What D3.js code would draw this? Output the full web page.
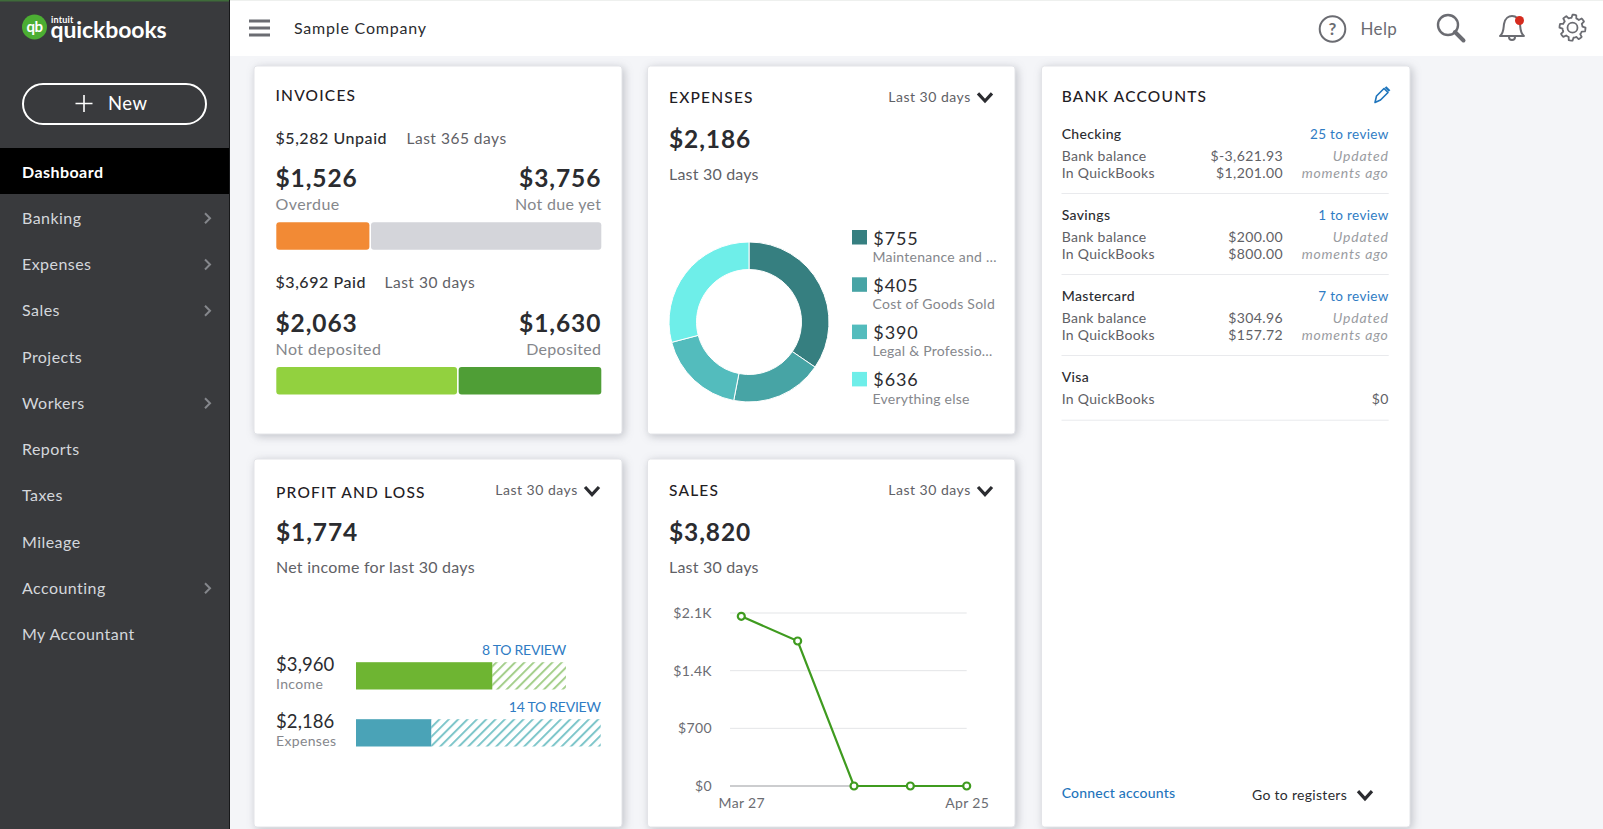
<!DOCTYPE html>
<html>
<head>
<meta charset="utf-8">
<title>QuickBooks dashboard</title>
<script src="https://cdn.jsdelivr.net/npm/d3@7"></script>
<style>
html, body {margin: 0; padding: 0; background: #f4f5f8; overflow: hidden;}
svg {display: block; font-family: Lato, "Open Sans", sans-serif;}
.card {fill: #fff; stroke: #e3e4e8; stroke-width: 1; filter: drop-shadow(2px 2px 4px rgba(60, 65, 80, 0.28));}
.sales-y .domain, .sales-y line {display: none;}
.sales-x .domain, .sales-x line {display: none;}
</style>
</head>
<body>
<svg id="canvas" width="1603" height="829"></svg>
<script>
//sidebar
const menuItems = ["Dashboard", "Banking", "Expenses", "Sales", "Projects", "Workers", "Reports", "Taxes", "Mileage", "Accounting", "My Accountant"]
const menuWithArrow = ["Banking", "Expenses", "Sales", "Workers", "Accounting"]

//invoices
const unpaidLabels = ["Overdue", "Not due yet"]
const unpaidValues = [1526, 3756]
const paidLabels = ["Not deposited", "Deposited"]
const paidValues = [2063, 1630]

//expenses donut
const expenseLabels = ["Maintenance and …", "Cost of Goods Sold", "Legal & Professio…", "Everything else"]
const expenseValues = [755, 405, 390, 636]
const expenseColors = ["#367f80", "#47a4a5", "#53bcbd", "#6eeee9"]

//profit and loss, second number is the bar with the items left to review
const plLabels = ["Income", "Expenses"]
const plValues = [3960, 2186]
const plWithReview = [6100, 7110]
const plReview = ["8 TO REVIEW", "14 TO REVIEW"]

//sales
const salesDates = ["Mar 27", "Apr 3", "Apr 11", "Apr 18", "Apr 25"]
const salesValues = [2060, 1760, 0, 0, 0]
const salesTicks = [0, 700, 1400, 2100]
const salesTickLabels = ["$0", "$700", "$1.4K", "$2.1K"]

//bank accounts
const bankNames = ["Checking", "Savings", "Mastercard", "Visa"]
const bankReview = ["25 to review", "1 to review", "7 to review", ""]
const bankBalance = ["$-3,621.93", "$200.00", "$304.96", ""]
const bookBalance = ["$1,201.00", "$800.00", "$157.72", "$0"]

const money = d3.format("$,")
const svg = d3.select("#canvas")
const dark = "#2b2c30", mid = "#5f6166", light = "#85878c", blue = "#2f7cc4"

const label = (parent, x, y, str, o = {}) => parent.append("text")
    .attr("x", x).attr("y", y)
    .attr("text-anchor", o.anchor || "start")
    .attr("fill", o.fill || dark)
    .attr("font-size", o.size || 15)
    .attr("font-weight", o.weight || 400)
    .attr("font-style", o.style || "normal")
    .attr("letter-spacing", o.spacing === undefined ? 0.35 : o.spacing)
    .text(str)

const chevron = (parent, cx, cy) => parent.append("path")
    .attr("d", `M${cx - 7},${cy - 3.8}L${cx},${cy + 3.8}L${cx + 7},${cy - 3.8}`)
    .attr("fill", "none").attr("stroke", dark).attr("stroke-width", 3.2)

const card = (x, y, w, h) => svg.append("rect").attr("class", "card")
    .attr("x", x).attr("y", y).attr("width", w).attr("height", h).attr("rx", 3)

//header and sidebar
svg.append("rect").attr("width", 1603).attr("height", 56).attr("fill", "#fff")
svg.append("rect").attr("width", 1603).attr("height", 1).attr("fill", "#eef0ee")

const side = svg.append("g")
side.append("rect").attr("width", 230).attr("height", 829).attr("fill", "#393a3d")
side.append("rect").attr("x", 229).attr("width", 1).attr("height", 829).attr("fill", "#17181a")
side.append("rect").attr("width", 229).attr("height", 1.5).attr("fill", "#3f6b3a")

//logo
side.append("circle").attr("cx", 34.5).attr("cy", 27).attr("r", 12.5).attr("fill", "#4cae33")
label(side, 34.5, 32, "qb", {anchor: "middle", fill: "#fff", size: 15, weight: 700, spacing: -0.6})
label(side, 51, 22.5, "intuit", {fill: "#fff", size: 9, weight: 700, spacing: 0.2})
label(side, 50.5, 37.5, "quickbooks", {fill: "#fff", size: 23, weight: 700, spacing: -0.1})

//new button
side.append("rect").attr("x", 23).attr("y", 84).attr("width", 183).attr("height", 40)
    .attr("rx", 20).attr("fill", "none").attr("stroke", "#fff").attr("stroke-width", 2)
side.append("path").attr("d", "M84,95V112M75.5,103.5H92.5").attr("stroke", "#fff").attr("stroke-width", 1.6)
label(side, 108, 110, "New", {fill: "#fff", size: 18.5, spacing: 0.5})

//menu
const menuY = d3.scalePoint().domain(menuItems).range([172, 634.5])
side.append("rect").attr("y", 148).attr("width", 229).attr("height", 46).attr("fill", "#000")
menuItems.forEach(item => {
    const y = menuY(item)
    const active = item === "Dashboard"
    label(side, 22, y + 5.5, item, {fill: active ? "#fff" : "#d4d7dc", size: 16, weight: active ? 700 : 400, spacing: 0.45})
    if (menuWithArrow.includes(item)) {
        side.append("path").attr("d", `M205,${y - 5}L210,${y}L205,${y + 5}`)
            .attr("fill", "none").attr("stroke", "#85878c").attr("stroke-width", 2)
    }
})

//top bar
const topBar = svg.append("g")
topBar.append("path").attr("d", "M249,21H270M249,28H270M249,35H270").attr("stroke", "#6b6c72").attr("stroke-width", 3)
label(topBar, 294, 33.5, "Sample Company", {size: 16, spacing: 0.8, fill: "#2b2c30"})
const iconColor = "#6b6c72"
topBar.append("circle").attr("cx", 1332.5).attr("cy", 29).attr("r", 12.8).attr("fill", "none").attr("stroke", iconColor).attr("stroke-width", 2)
label(topBar, 1332.5, 35, "?", {anchor: "middle", size: 17, weight: 700, fill: iconColor, spacing: 0})
label(topBar, 1360.5, 34.5, "Help", {size: 17, fill: iconColor})
topBar.append("circle").attr("cx", 1448).attr("cy", 25).attr("r", 10).attr("fill", "none").attr("stroke", iconColor).attr("stroke-width", 2.4)
topBar.append("path").attr("d", "M1455,32L1463.5,40.5").attr("stroke", iconColor).attr("stroke-width", 4).attr("stroke-linecap", "round")
topBar.append("path").attr("d", "M1500,36C1504,33 1503.5,27 1504,24C1505,18 1509,16 1512,16C1516,16 1519,19 1520,24C1520.5,28 1520,33 1524,36Z")
    .attr("fill", "none").attr("stroke", iconColor).attr("stroke-width", 2).attr("stroke-linejoin", "round")
topBar.append("path").attr("d", "M1509,37A3,3 0 0 0 1515,37").attr("fill", "none").attr("stroke", iconColor).attr("stroke-width", 2)
topBar.append("circle").attr("cx", 1519.5).attr("cy", 20.5).attr("r", 4.5).attr("fill", "#d52b1e")
//gear
const gearPts = d3.range(64).map(i => {
    const a = i / 64 * 2 * Math.PI, s = i % 8
    return [1572.5 + (s < 4 ? 13 : 10) * Math.sin(a), 27.7 - (s < 4 ? 13 : 10) * Math.cos(a)]
})
topBar.append("path").attr("d", d3.line().curve(d3.curveLinearClosed)(gearPts))
    .attr("fill", "none").attr("stroke", iconColor).attr("stroke-width", 1.8).attr("stroke-linejoin", "round")
topBar.append("circle").attr("cx", 1572.5).attr("cy", 27.7).attr("r", 5).attr("fill", "none").attr("stroke", iconColor).attr("stroke-width", 1.8)

//cards
card(254, 66, 368, 368)
card(647.5, 66, 367.5, 368)
card(1041.5, 66, 368.5, 761)
card(254, 459, 368, 368)
card(647.5, 459, 367.5, 368)

const title = (x, y, str) => label(svg, x, y, str, {size: 15.5, weight: 500, spacing: 1.2, fill: "#1f2024"})
const range = (cx, y) => {
    label(svg, cx - 96.7, y, "Last 30 days", {size: 14, fill: mid, spacing: 0.5})
    chevron(svg, cx, y - 4.5)
}
const bigNumber = (x, y, str, anchor) => label(svg, x, y, str, {size: 24.5, weight: 700, spacing: 0.9, anchor: anchor})
const subtitle = (x, y, str, fill, anchor, spacing) => label(svg, x, y, str, {size: 16, spacing: spacing === undefined ? 0.45 : spacing, fill: fill || mid, anchor: anchor})

//invoices card
title(275.5, 100.7, "INVOICES")
label(svg, 275.5, 143.5, "$5,282 Unpaid", {size: 16, weight: 500, spacing: 0.55})
label(svg, 406.5, 143.5, "Last 365 days", {size: 15.5, fill: mid, spacing: 0.5})
label(svg, 275.5, 288.3, "$3,692 Paid", {size: 16, weight: 500, spacing: 0.55})
label(svg, 384.5, 288.3, "Last 30 days", {size: 15.5, fill: mid, spacing: 0.5})

const drawSplit = (values, labels, colors, numberY, barY) => {
    const x = d3.scaleLinear().domain([0, d3.sum(values)]).range([276.3, 601.3])
    bigNumber(275.5, numberY, money(values[0]))
    bigNumber(601.3, numberY, money(values[1]), "end")
    subtitle(275.5, numberY + 22.8, labels[0], light)
    subtitle(601.3, numberY + 22.8, labels[1], light, "end", 0.3)
    svg.selectAll(null).data(values).enter().append("rect")
        .attr("x", (d, i) => i ? x(values[0]) + 0.8 : x(0))
        .attr("y", barY).attr("height", 27.5).attr("rx", 3)
        .attr("width", (d, i) => x(d) - x(0) - 0.8)
        .attr("fill", (d, i) => colors[i])
}
drawSplit(unpaidValues, unpaidLabels, ["#f28a35", "#d4d5da"], 187, 222.3)
drawSplit(paidValues, paidLabels, ["#92d13f", "#4f9e36"], 331.7, 367)

//expenses card
title(669, 102.5, "EXPENSES")
range(985, 101.7)
bigNumber(669, 147.7, money(2186))
subtitle(669, 179.5, "Last 30 days", mid, "start", 0.2)
const donut = svg.append("g").attr("transform", "translate(749,322)")
const arc = d3.arc().innerRadius(52.5).outerRadius(80)
donut.selectAll("path").data(d3.pie().sort(null)(expenseValues)).enter().append("path")
    .attr("d", arc)
    .attr("fill", (d, i) => expenseColors[i])
    .attr("stroke", "#fff").attr("stroke-width", 1)
const legendY = d3.scaleLinear().domain([0, 1]).range([230, 277.3])
expenseValues.forEach((v, i) => {
    const y = legendY(i)
    svg.append("rect").attr("x", 852).attr("y", y).attr("width", 15).attr("height", 14.5).attr("fill", expenseColors[i])
    label(svg, 873.3, y + 14.5, money(v), {size: 18, spacing: 0.9})
    label(svg, 872.5, y + 31.7, expenseLabels[i], {size: 14, fill: light, spacing: 0.25})
})

//bank accounts card
title(1061.7, 101.7, "BANK ACCOUNTS")
svg.append("path").attr("d", "M1375,102.5L1376.5,96L1384,88.5L1388,92.5L1380.5,100Z")
    .attr("fill", "none").attr("stroke", "#1f75bc").attr("stroke-width", 1.6).attr("stroke-linejoin", "round")
svg.append("path").attr("d", "M1385.5,87L1389.5,91").attr("stroke", "#1f75bc").attr("stroke-width", 2.4)
bankNames.forEach((name, i) => {
    const y = 139 + i * 81
    label(svg, 1061.7, y, name, {size: 14, weight: 500, spacing: 0.35})
    label(svg, 1388.7, y, bankReview[i], {size: 13.5, fill: blue, anchor: "end", spacing: 0.35})
    if (bankBalance[i]) {
        label(svg, 1061.7, y + 22, "Bank balance", {size: 14, fill: mid, spacing: 0.3})
        label(svg, 1283, y + 22, bankBalance[i], {size: 14, fill: mid, anchor: "end", spacing: 0.4})
        label(svg, 1061.7, y + 39.3, "In QuickBooks", {size: 14, fill: mid, spacing: 0.3})
        label(svg, 1283, y + 39.3, bookBalance[i], {size: 14, fill: mid, anchor: "end", spacing: 0.4})
        label(svg, 1388.7, y + 22, "Updated", {size: 14, fill: "#9a9ca1", anchor: "end", style: "italic", spacing: 0.8})
        label(svg, 1388.7, y + 38.5, "moments ago", {size: 14, fill: "#9a9ca1", anchor: "end", style: "italic", spacing: 0.8})
    } else {
        label(svg, 1061.7, y + 22, "In QuickBooks", {size: 14, fill: mid, spacing: 0.3})
        label(svg, 1388.7, y + 22, bookBalance[i], {size: 14, fill: mid, anchor: "end", spacing: 0.4})
    }
    svg.append("rect").attr("x", 1061.5).attr("y", i < 3 ? y + 54 : y + 37.7).attr("width", 327.2).attr("height", 1).attr("fill", "#e9eaed")
})
label(svg, 1061.7, 798.3, "Connect accounts", {size: 14, weight: 500, fill: "#1f75bc", spacing: 0.2})
label(svg, 1252, 799.7, "Go to registers", {size: 14, fill: dark, spacing: 0.3})
chevron(svg, 1365, 795)

//profit and loss card
title(276, 497.8, "PROFIT AND LOSS")
range(592, 495.3)
bigNumber(276, 541, money(1774))
subtitle(276, 573, "Net income for last 30 days", mid, "start", 0.25)

const defs = svg.append("defs")
const hatch = (id, color) => {
    const p = defs.append("pattern").attr("id", id).attr("patternUnits", "userSpaceOnUse")
        .attr("width", 6.6).attr("height", 6.6).attr("patternTransform", "rotate(45)")
    p.append("rect").attr("width", 2).attr("height", 6.6).attr("fill", color)
}
hatch("hatchIncome", "#a5cf8c")
hatch("hatchExpense", "#7ec6ca")

const plX = d3.scaleLinear().domain([0, d3.max(plWithReview)]).range([356, 600.7])
const plColors = ["#6eb532", "#4aa3b7"]
const plHatch = ["url(#hatchIncome)", "url(#hatchExpense)"]
plValues.forEach((v, i) => {
    const y = 662.2 + i * 57
    label(svg, 276, y + 8.6, money(v), {size: 18.5, spacing: 0.1})
    label(svg, 276, y + 26.6, plLabels[i], {size: 14, fill: light, spacing: 0.35})
    label(svg, plX(plWithReview[i]), y - 7, plReview[i], {size: 14, fill: blue, anchor: "end", spacing: -0.25})
    svg.append("rect").attr("x", plX(v)).attr("y", y).attr("height", 27.3)
        .attr("width", plX(plWithReview[i]) - plX(v)).attr("fill", plHatch[i])
    svg.append("rect").attr("x", plX(0)).attr("y", y).attr("height", 27.3)
        .attr("width", plX(v) - plX(0)).attr("fill", plColors[i])
})

//sales card
title(669, 496.2, "SALES")
range(985, 495.3)
bigNumber(669, 541, money(3820))
subtitle(669, 573, "Last 30 days", mid, "start", 0.2)

const salesX = d3.scalePoint().domain(salesDates).range([741.3, 966.7])
const salesY = d3.scaleLinear().domain([0, 2100]).range([786, 613])
const yAxis = svg.append("g").attr("class", "sales-y").attr("transform", "translate(712,0)")
    .call(d3.axisLeft(salesY).tickValues(salesTicks).tickSize(0).tickPadding(0).tickFormat((d, i) => salesTickLabels[i]))
yAxis.selectAll("text").attr("font-family", "Lato").attr("font-size", 14).attr("fill", "#6b6c72").attr("letter-spacing", 0.35)
svg.selectAll(".grid").data(salesTicks).enter().append("rect")
    .attr("class", "grid").attr("x", 730).attr("width", 236.7).attr("height", 1)
    .attr("y", d => salesY(d) - 0.5)
    .attr("fill", d => d === 0 ? "#9a9ca0" : "#e4e5e8")
const xAxis = svg.append("g").attr("class", "sales-x").attr("transform", "translate(0,798.5)")
    .call(d3.axisBottom(salesX).tickValues(["Mar 27", "Apr 25"]).tickSize(0).tickPadding(0))
xAxis.selectAll("text").attr("font-family", "Lato").attr("font-size", 14).attr("fill", "#6b6c72").attr("letter-spacing", 0.35)

const salesLine = d3.line().x((d, i) => salesX(salesDates[i])).y(d => salesY(d))
svg.append("path").attr("d", salesLine(salesValues)).attr("fill", "none").attr("stroke", "#3f9b1f").attr("stroke-width", 2.2)
svg.selectAll(".pt").data(salesValues).enter().append("circle").attr("class", "pt")
    .attr("cx", (d, i) => salesX(salesDates[i])).attr("cy", d => salesY(d))
    .attr("r", 3.5).attr("fill", "#fff").attr("stroke", "#3f9b1f").attr("stroke-width", 2.2)
</script>
</body>
</html>
